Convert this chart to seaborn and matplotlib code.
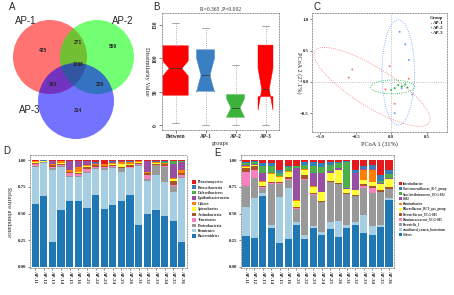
import numpy as np
import pandas as pd
import seaborn as sns
import matplotlib.pyplot as plt
from matplotlib.patches import Circle, Ellipse

# ---------------- data ----------------
# A: venn counts
venn_names = ['AP-1', 'AP-2', 'AP-3']
venn_counts = [425, 559, 314, 271, 263, 226, 1298]   # 1, 2, 3, 1&2, 1&3, 2&3, all

# B: anosim rank boxes (min, q1, median, q3, max)
box_groups = ['Between', 'AP-1', 'AP-2', 'AP-3']
between_stats = [3, 45, 85, 119, 153]
ap1_stats = [1, 51, 75, 113, 145]
ap2_stats = [0, 12, 26, 46, 90]
ap3_stats = [0, 43, 54, 120, 148]
group_sizes = [108, 15, 15, 15]
anosim_title = 'R=0.365 ,P=0.002'

# C: PCoA points
ap1_pc1 = [-0.55, -0.60, -0.02, 0.25, -0.08, 0.05]
ap1_pc2 = [0.20, 0.07, 0.25, 0.05, -0.12, -0.35]
ap2_pc1 = [0.05, 0.10, 0.15, 0.20, 0.23, 0.00]
ap2_pc2 = [-0.10, -0.05, -0.07, -0.04, -0.09, -0.13]
ap3_pc1 = [0.20, 0.25, 0.15, 0.05, 0.12, 0.30]
ap3_pc2 = [0.60, 0.35, -0.10, -0.50, 0.80, -0.20]
# ellipse (centre x, centre y, width, height, angle)
ap1_ellipse = [-0.27, -0.08, 1.98, 0.60, -36]
ap2_ellipse = [0.02, -0.08, 0.62, 0.22, 0]
ap3_ellipse = [0.10, 0.15, 0.46, 1.68, 0]

samples = ['AP-11', 'AP-12', 'AP-13', 'AP-14', 'AP-15', 'AP-16',
           'AP-21', 'AP-22', 'AP-23', 'AP-24', 'AP-25', 'AP-26',
           'AP-31', 'AP-32', 'AP-33', 'AP-34', 'AP-35', 'AP-36']

# D: phylum level
planctomycetes = [0.002, 0.001, 0.005, 0.002, 0.002, 0.005, 0.002, 0.02, 0.03, 0.01, 0.005, 0.01, 0.002, 0.005, 0.01, 0.01, 0.005, 0.002]
patescibacteria = [0.002, 0.001, 0.003, 0.002, 0.002, 0.002, 0.002, 0.003, 0.002, 0.003, 0.002, 0.002, 0.002, 0.002, 0.002, 0.003, 0.005, 0.002]
deferribacteres = [0.002, 0.001, 0.003, 0.002, 0.005, 0.003, 0.003, 0.002, 0.002, 0.003, 0.003, 0.002, 0.002, 0.002, 0.002, 0.01, 0.02, 0.015]
epsilonbacteraeota = [0.003, 0.001, 0.025, 0.003, 0.08, 0.05, 0.04, 0.005, 0.003, 0.01, 0.01, 0.003, 0.002, 0.1, 0.003, 0.003, 0.13, 0.07]
others_phylum = [0.01, 0.005, 0.005, 0.02, 0.02, 0.05, 0.01, 0.01, 0.015, 0.01, 0.01, 0.02, 0.01, 0.01, 0.01, 0.01, 0.01, 0.03]
spirochaetes = [0.005, 0.003, 0.005, 0.005, 0.005, 0.005, 0.003, 0.005, 0.005, 0.01, 0.03, 0.01, 0.003, 0.003, 0.005, 0.003, 0.02, 0.003]
actinobacteria = [0.01, 0.005, 0.02, 0.01, 0.01, 0.01, 0.02, 0.02, 0.01, 0.01, 0.01, 0.02, 0.015, 0.015, 0.01, 0.015, 0.04, 0.02]
tenericutes = [0.015, 0.003, 0.01, 0.005, 0.02, 0.02, 0.03, 0.01, 0.01, 0.01, 0.005, 0.005, 0.005, 0.04, 0.005, 0.005, 0.01, 0.02]
proteobacteria = [0.012, 0.005, 0.02, 0.01, 0.01, 0.01, 0.01, 0.01, 0.01, 0.01, 0.03, 0.005, 0.01, 0.02, 0.09, 0.14, 0.05, 0.01]
firmicutes = [0.35, 0.305, 0.675, 0.41, 0.235, 0.225, 0.33, 0.24, 0.37, 0.35, 0.27, 0.25, 0.56, 0.31, 0.33, 0.32, 0.27, 0.60]
bacteroidetes = [0.59, 0.67, 0.24, 0.54, 0.62, 0.62, 0.56, 0.68, 0.55, 0.58, 0.62, 0.68, 0.40, 0.50, 0.54, 0.48, 0.43, 0.24]
phylum_names = ['Planctomycetes', 'Patescibacteria', 'Deferribacteres', 'Epsilonbacteraeota',
                'Others', 'Spirochaetes', 'Actinobacteria', 'Tenericutes',
                'Proteobacteria', 'Firmicutes', 'Bacteroidetes']

# E: genus level
intestinibacter = [0.015, 0.005, 0.03, 0.03, 0.09, 0.05, 0.05, 0.02, 0.02, 0.03, 0.02, 0.02, 0.01, 0.09, 0.05, 0.04, 0.14, 0.09]
christensenellaceae = [0.01, 0.01, 0.02, 0.02, 0.03, 0.01, 0.005, 0.02, 0.03, 0.03, 0.02, 0.01, 0.01, 0.03, 0.03, 0.04, 0.06, 0.04]
succinivibrionaceae = [0.02, 0.02, 0.07, 0.07, 0.03, 0.04, 0.02, 0.04, 0.07, 0.06, 0.06, 0.04, 0.25, 0.005, 0.005, 0.005, 0.02, 0.04]
f082 = [0.005, 0.005, 0.08, 0.005, 0.005, 0.005, 0.31, 0.005, 0.13, 0.18, 0.02, 0.02, 0.005, 0.16, 0.005, 0.005, 0.005, 0.005]
ruminobacter = [0.01, 0.005, 0.005, 0.005, 0.005, 0.005, 0.005, 0.005, 0.005, 0.005, 0.005, 0.005, 0.005, 0.005, 0.10, 0.12, 0.005, 0.005]
rikenellaceae = [0.01, 0.01, 0.04, 0.08, 0.05, 0.05, 0.06, 0.05, 0.06, 0.08, 0.07, 0.12, 0.03, 0.04, 0.04, 0.03, 0.06, 0.07]
prevotellaceae = [0.04, 0.04, 0.01, 0.01, 0.01, 0.02, 0.01, 0.04, 0.01, 0.01, 0.01, 0.01, 0.01, 0.01, 0.02, 0.02, 0.01, 0.02]
ruminococcaceae = [0.13, 0.07, 0.005, 0.005, 0.005, 0.005, 0.005, 0.005, 0.005, 0.005, 0.005, 0.005, 0.005, 0.005, 0.01, 0.05, 0.005, 0.005]
prevotella_1 = [0.20, 0.19, 0.05, 0.39, 0.13, 0.08, 0.13, 0.53, 0.30, 0.29, 0.38, 0.35, 0.30, 0.25, 0.26, 0.31, 0.32, 0.08]
uncultured_rumen = [0.27, 0.38, 0.03, 0.03, 0.44, 0.48, 0.03, 0.03, 0.02, 0.02, 0.07, 0.15, 0.03, 0.03, 0.18, 0.09, 0.02, 0.02]
others_genus = [0.29, 0.27, 0.68, 0.37, 0.23, 0.27, 0.40, 0.27, 0.37, 0.31, 0.36, 0.29, 0.37, 0.40, 0.32, 0.30, 0.38, 0.64]
genus_names = ['Intestinibacter', 'Christensenellaceae_R-7_group', 'Succinivibrionaceae_UCG-002',
               'F082', 'Ruminobacter', 'Rikenellaceae_RC9_gut_group', 'Prevotellaceae_UCG-001',
               'Ruminococcaceae_UCG-005', 'Prevotella_1', 'uncultured_rumen_bacterium', 'Others']

stack_colors = ['#E41A1C', '#377EB8', '#4DAF4A', '#984EA3', '#FF7F00', '#FFFF33',
                '#A65628', '#F781BF', '#999999', '#A6CEE3', '#1F78B4']

# ---------------- figure ----------------
sns.set_theme(style='white')
plt.rcParams['font.family'] = ['Liberation Serif', 'DejaVu Serif']
plt.rcParams['font.weight'] = 'bold'

W, H = 454, 295
fig = plt.figure(figsize=(W / 100, H / 100), dpi=100)


def px_box(x0, y0, x1, y1):
    return [x0 / W, 1 - y1 / H, (x1 - x0) / W, (y1 - y0) / H]


def dotted_frame(ax):
    for sp in ax.spines.values():
        sp.set_visible(True)
        sp.set_linestyle(':')
        sp.set_linewidth(0.7)
        sp.set_edgecolor('#999999')


def letter(x, y, s):
    fig.text(x / W, 1 - y / H, s, fontsize=7, family='Liberation Sans',
             weight='normal', va='top', ha='left')


# ---- A: venn
ax_a = fig.add_axes(px_box(0, 0, 150, 145))
ax_a.set_xlim(0, 150)
ax_a.set_ylim(145, 0)
ax_a.axis('off')
circles = [(50, 57, 37, '#FF0000'), (97, 57, 37, '#00FF00'), (76, 101, 38, '#0000FF')]
for cx, cy, r, c in circles:
    ax_a.add_patch(Circle((cx, cy), r, facecolor=c, alpha=0.55, edgecolor='none'))
count_pos = [(43, 51), (113, 47), (78, 110), (78, 43), (53, 85), (100, 85), (78, 65)]
for (x, y), n in zip(count_pos, venn_counts):
    ax_a.text(x, y, str(n), fontsize=3.5, ha='center', va='center',
              family='Liberation Sans', weight='bold')
for (x, y), name in zip([(26, 21), (123, 21), (30, 110)], venn_names):
    ax_a.text(x, y, name, fontsize=7, ha='center', va='center',
              family='Liberation Sans', weight='normal')
letter(9, 2, 'A')

# ---- B: anosim boxplot
ax_b = fig.add_axes(px_box(162, 13, 279, 130))
stats = []
for name, s, n in zip(box_groups, [between_stats, ap1_stats, ap2_stats, ap3_stats], group_sizes):
    lo, q1, med, q3, hi = s
    half = 1.58 * (q3 - q1) / np.sqrt(n)
    stats.append(dict(label=name, whislo=lo, q1=q1, med=med, q3=q3, whishi=hi,
                      cilo=med - half, cihi=med + half, fliers=[]))
bp = ax_b.bxp(stats, positions=[1, 2, 3, 4], widths=[0.85, 0.6, 0.6, 0.5],
              shownotches=True, patch_artist=True, showfliers=False, capwidths=0.25,
              whiskerprops=dict(color='#999999', linestyle=':', linewidth=0.6),
              capprops=dict(color='#999999', linewidth=0.6),
              medianprops=dict(color='#333333', linewidth=0.5),
              boxprops=dict(linewidth=0.3))
for patch, c in zip(bp['boxes'], ['#FF0000', '#3A7FC1', '#3CB43C', '#FF0000']):
    patch.set_facecolor(c)
    patch.set_edgecolor(c)
ax_b.set_xlim(0.55, 4.45)
ax_b.set_ylim(-7, 168)
ax_b.set_yticks([0, 50, 100, 150])
ax_b.set_yticklabels(['0', '50', '100', '150'], rotation=90, va='center')
ax_b.tick_params(labelsize=4, length=2, width=0.4, pad=1, bottom=True, left=True)
ax_b.set_title(anosim_title, fontsize=4, pad=2)
ax_b.set_xlabel('groups', fontsize=4.5, labelpad=1)
ax_b.set_ylabel('Dissimilarity Value', fontsize=4.5, rotation=270, labelpad=6)
ax_b.yaxis.set_label_coords(-0.15, 0.5)
dotted_frame(ax_b)
letter(153, 2, 'B')

# ---- C: PCoA
pcoa = pd.DataFrame({
    'pc1': ap1_pc1 + ap2_pc1 + ap3_pc1,
    'pc2': ap1_pc2 + ap2_pc2 + ap3_pc2,
    'Group': ['AP-1'] * len(ap1_pc1) + ['AP-2'] * len(ap2_pc1) + ['AP-3'] * len(ap3_pc1),
})
group_colors = {'AP-1': '#F8766D', 'AP-2': '#00BA38', 'AP-3': '#619CFF'}
ax_c = fig.add_axes(px_box(312, 13, 447, 132))
ax_c.axhline(0, ls=':', color='#AAAAAA', lw=0.6)
ax_c.axvline(0, ls=':', color='#AAAAAA', lw=0.6)
sns.scatterplot(data=pcoa, x='pc1', y='pc2', hue='Group', palette=group_colors,
                s=2, linewidth=0, ax=ax_c)
for g, e in zip(['AP-1', 'AP-2', 'AP-3'], [ap1_ellipse, ap2_ellipse, ap3_ellipse]):
    ax_c.add_patch(Ellipse((e[0], e[1]), e[2], e[3], angle=e[4], fill=False,
                           ls=':', lw=0.6, ec=group_colors[g]))
ax_c.set_xlim(-1.12, 0.79)
ax_c.set_ylim(-0.80, 1.10)
ax_c.set_xticks([-1.0, -0.5, 0.0, 0.5])
ax_c.set_yticks([-0.5, 0.0, 0.5, 1.0])
ax_c.tick_params(labelsize=3.5, length=1.5, width=0.4, pad=1, bottom=True, left=True)
ax_c.set_xlabel('PCoA 1 (31%)', fontsize=4.5, labelpad=1)
ax_c.set_ylabel('PCoA 2 (27.1%)', fontsize=4.5, rotation=270, labelpad=6)
ax_c.yaxis.set_label_coords(-0.115, 0.5)
sns.move_legend(ax_c, 'upper right', frameon=False, fontsize=3.5, title='Group',
                title_fontsize=3.5, markerscale=0.6, handlelength=0.6,
                handletextpad=0.2, labelspacing=0.1, borderaxespad=0.3)
dotted_frame(ax_c)
letter(313, 2, 'C')


# ---- D / E: stacked relative abundance
def stacked(ax, columns, names, fs):
    table = pd.DataFrame(dict(zip(names, columns)), index=samples)
    table = table.div(table.sum(axis=1), axis=0)
    long = table.reset_index(names='sample').melt(id_vars='sample', var_name='taxon',
                                                  value_name='abund')
    sns.histplot(data=long, x='sample', weights='abund', hue='taxon', hue_order=names,
                 palette=stack_colors, multiple='stack', discrete=True, shrink=0.85,
                 linewidth=0, alpha=1, ax=ax)
    ax.set_xlim(-0.6, len(samples) - 0.4)
    ax.set_ylim(-0.01, 1.05)
    ax.set_yticks([0, 0.25, 0.5, 0.75, 1.0])
    ax.set_yticklabels(['0.00', '0.25', '0.50', '0.75', '1.00'])
    ax.tick_params(axis='x', labelrotation=270)
    ax.tick_params(labelsize=3.5, length=1.5, width=0.4, pad=1, bottom=True, left=True)
    ax.set_xlabel('')
    ax.set_ylabel('')
    sns.move_legend(ax, 'center left', bbox_to_anchor=(1.025, 0.52), frameon=False,
                    title=None, fontsize=fs, handlelength=1.0, handleheight=1.0,
                    labelspacing=0.35, handletextpad=0.3, borderaxespad=0)
    dotted_frame(ax)


ax_d = fig.add_axes(px_box(30, 155, 187, 268))
stacked(ax_d, [planctomycetes, patescibacteria, deferribacteres, epsilonbacteraeota,
               others_phylum, spirochaetes, actinobacteria, tenericutes,
               proteobacteria, firmicutes, bacteroidetes], phylum_names, 2.8)
ax_d.set_ylabel('Relative abundance', fontsize=4.5, rotation=270, labelpad=6)
ax_d.yaxis.set_label_coords(-0.15, 0.5)
letter(3, 146, 'D')

ax_e = fig.add_axes(px_box(241, 155, 394, 268))
stacked(ax_e, [intestinibacter, christensenellaceae, succinivibrionaceae, f082,
               ruminobacter, rikenellaceae, prevotellaceae, ruminococcaceae,
               prevotella_1, uncultured_rumen, others_genus], genus_names, 2.3)
letter(214, 148, 'E')

fig.savefig('out.png', dpi=100)
